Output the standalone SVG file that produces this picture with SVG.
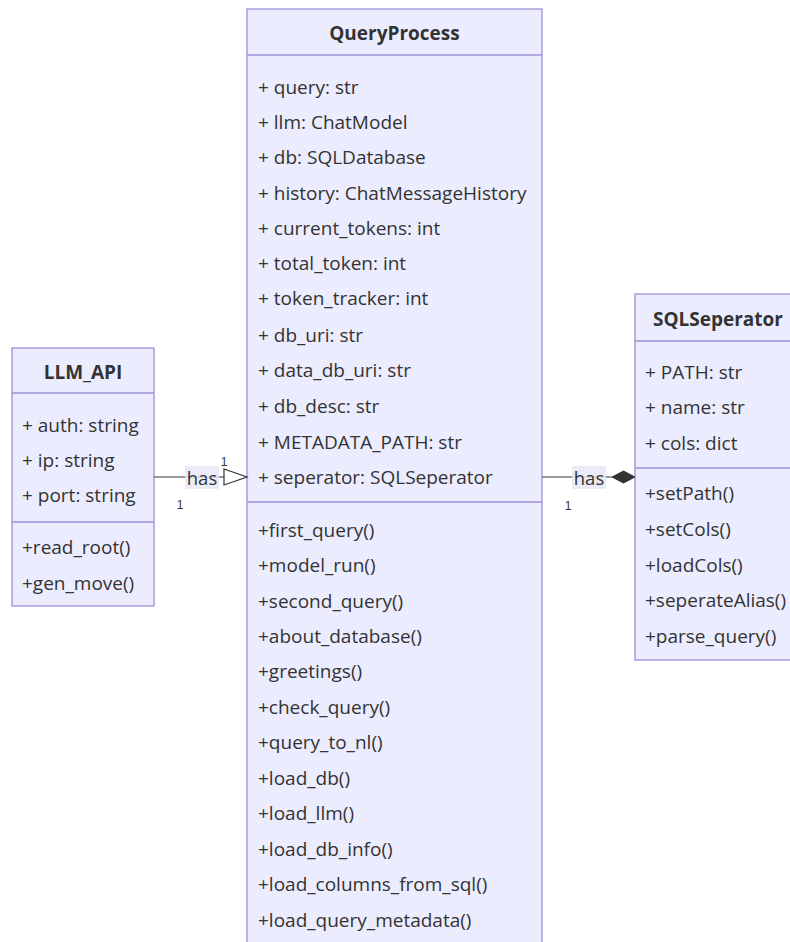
<svg xmlns="http://www.w3.org/2000/svg" width="790" height="942" viewBox="0 0 790 942">
  <style>
    .box { fill: #ECECFF; stroke: #9F90D8; stroke-width: 1.3; }
    .sep { stroke: #9F90D8; stroke-width: 1.3; fill: none; }
    .t { font-family: "Open Sans", "DejaVu Sans", sans-serif; font-size: 19px; fill: #333333; dominant-baseline: central; }
    .title { font-weight: bold; text-anchor: middle; }
    .edge { stroke: #333333; stroke-width: 1.2; fill: none; }
    .lblbg { fill: #E8E8F6; opacity: 0.85; }
    .lbl { font-family: "Open Sans", "DejaVu Sans", sans-serif; font-size: 18.5px; fill: #333333; text-anchor: middle; dominant-baseline: central; }
    .card { font-family: "Liberation Sans", Arial, sans-serif; font-size: 12px; fill: #333333; text-anchor: middle; dominant-baseline: central; }
  </style>

  <rect width="790" height="942" fill="#FFFFFF"/>

  <!-- class QueryProcess -->
  <g id="QueryProcess">
    <rect class="box" x="247" y="9" width="295" height="960"/>
    <line class="sep" x1="247" y1="55" x2="542" y2="55"/>
    <line class="sep" x1="247" y1="502" x2="542" y2="502"/>
    <text class="t title" x="394.5" y="33">QueryProcess</text>
    <text class="t" x="258" y="87">+ query: str</text>
    <text class="t" x="258" y="122">+ llm: ChatModel</text>
    <text class="t" x="258" y="157">+ db: SQLDatabase</text>
    <text class="t" x="258" y="193">+ history: ChatMessageHistory</text>
    <text class="t" x="258" y="228">+ current_tokens: int</text>
    <text class="t" x="258" y="263">+ total_token: int</text>
    <text class="t" x="258" y="298">+ token_tracker: int</text>
    <text class="t" x="258" y="335">+ db_uri: str</text>
    <text class="t" x="258" y="370">+ data_db_uri: str</text>
    <text class="t" x="258" y="406">+ db_desc: str</text>
    <text class="t" x="258" y="442">+ METADATA_PATH: str</text>
    <text class="t" x="258" y="477">+ seperator: SQLSeperator</text>
    <text class="t" x="258" y="530">+first_query()</text>
    <text class="t" x="258" y="565">+model_run()</text>
    <text class="t" x="258" y="601">+second_query()</text>
    <text class="t" x="258" y="636">+about_database()</text>
    <text class="t" x="258" y="671">+greetings()</text>
    <text class="t" x="258" y="707">+check_query()</text>
    <text class="t" x="258" y="742">+query_to_nl()</text>
    <text class="t" x="258" y="778">+load_db()</text>
    <text class="t" x="258" y="813">+load_llm()</text>
    <text class="t" x="258" y="849">+load_db_info()</text>
    <text class="t" x="258" y="884">+load_columns_from_sql()</text>
    <text class="t" x="258" y="920">+load_query_metadata()</text>
  </g>

  <!-- class LLM_API -->
  <g id="LLM_API">
    <rect class="box" x="12" y="348" width="142" height="258"/>
    <line class="sep" x1="12" y1="393" x2="154" y2="393"/>
    <line class="sep" x1="12" y1="522" x2="154" y2="522"/>
    <text class="t title" x="83" y="372">LLM_API</text>
    <text class="t" x="22" y="425">+ auth: string</text>
    <text class="t" x="22" y="460">+ ip: string</text>
    <text class="t" x="22" y="495">+ port: string</text>
    <text class="t" x="22" y="547">+read_root()</text>
    <text class="t" x="22" y="583">+gen_move()</text>
  </g>

  <!-- class SQLSeperator -->
  <g id="SQLSeperator">
    <rect class="box" x="635" y="294" width="166" height="366"/>
    <line class="sep" x1="635" y1="341" x2="801" y2="341"/>
    <line class="sep" x1="635" y1="468" x2="801" y2="468"/>
    <text class="t title" x="718" y="319">SQLSeperator</text>
    <text class="t" x="645" y="372">+ PATH: str</text>
    <text class="t" x="645" y="407">+ name: str</text>
    <text class="t" x="645" y="443">+ cols: dict</text>
    <text class="t" x="645" y="493">+setPath()</text>
    <text class="t" x="645" y="529">+setCols()</text>
    <text class="t" x="645" y="565">+loadCols()</text>
    <text class="t" x="645" y="600">+seperateAlias()</text>
    <text class="t" x="645" y="636">+parse_query()</text>
  </g>

  <!-- relations -->
  <g id="connectors">
    <!-- LLM_API to QueryProcess: hollow triangle end -->
    <line class="edge" x1="154" y1="477" x2="224" y2="477"/>
    <polygon points="224,469 247,477 224,485" fill="#FFFFFF" stroke="#333333" stroke-width="1.2"/>
    <rect class="lblbg" x="185" y="466" width="34" height="23"/>
    <text class="lbl" x="202" y="477">has</text>
    <text class="card" x="224" y="462">1</text>
    <text class="card" x="180" y="505">1</text>

    <!-- QueryProcess to SQLSeperator: filled diamond end -->
    <line class="edge" x1="542" y1="477" x2="612" y2="477"/>
    <polygon points="612,477 623.5,471 635,477 623.5,483" fill="#333333" stroke="#333333" stroke-width="1"/>
    <rect class="lblbg" x="572" y="466" width="34" height="23"/>
    <text class="lbl" x="589" y="477">has</text>
    <text class="card" x="568" y="506">1</text>
  </g>
</svg>
